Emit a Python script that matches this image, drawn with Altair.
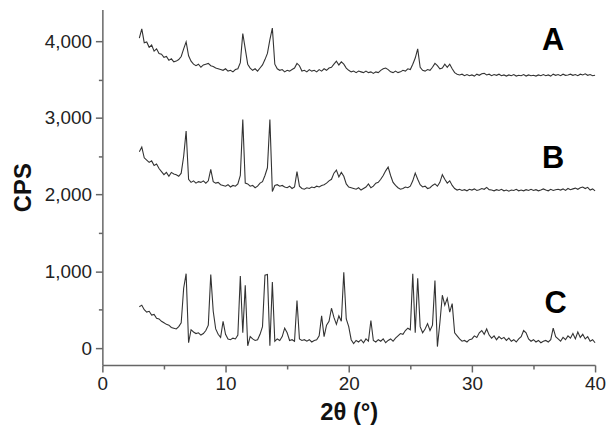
import altair as alt
import pandas as pd

two_theta = [
    3.0, 3.2, 3.4, 3.6, 3.8, 4.0, 4.2, 4.4, 4.6, 4.8,
    5.0, 5.2, 5.4, 5.6, 5.8, 6.0, 6.2, 6.4, 6.6, 6.8,
    7.0, 7.2, 7.4, 7.6, 7.8, 8.0, 8.2, 8.4, 8.6, 8.8,
    9.0, 9.2, 9.4, 9.6, 9.8, 10.0, 10.2, 10.4, 10.6, 10.8,
    11.0, 11.2, 11.4, 11.6, 11.8, 12.0, 12.2, 12.4, 12.6, 12.8,
    13.0, 13.2, 13.4, 13.6, 13.8, 14.0, 14.2, 14.4, 14.6, 14.8,
    15.0, 15.2, 15.4, 15.6, 15.8, 16.0, 16.2, 16.4, 16.6, 16.8,
    17.0, 17.2, 17.4, 17.6, 17.8, 18.0, 18.2, 18.4, 18.6, 18.8,
    19.0, 19.2, 19.4, 19.6, 19.8, 20.0, 20.2, 20.4, 20.6, 20.8,
    21.0, 21.2, 21.4, 21.6, 21.8, 22.0, 22.2, 22.4, 22.6, 22.8,
    23.0, 23.2, 23.4, 23.6, 23.8, 24.0, 24.2, 24.4, 24.6, 24.8,
    25.0, 25.2, 25.4, 25.6, 25.8, 26.0, 26.2, 26.4, 26.6, 26.8,
    27.0, 27.2, 27.4, 27.6, 27.8, 28.0, 28.2, 28.4, 28.6, 28.8,
    29.0, 29.2, 29.4, 29.6, 29.8, 30.0, 30.2, 30.4, 30.6, 30.8,
    31.0, 31.2, 31.4, 31.6, 31.8, 32.0, 32.2, 32.4, 32.6, 32.8,
    33.0, 33.2, 33.4, 33.6, 33.8, 34.0, 34.2, 34.4, 34.6, 34.8,
    35.0, 35.2, 35.4, 35.6, 35.8, 36.0, 36.2, 36.4, 36.6, 36.8,
    37.0, 37.2, 37.4, 37.6, 37.8, 38.0, 38.2, 38.4, 38.6, 38.8,
    39.0, 39.2, 39.4, 39.6, 39.8, 40.0,
]

cps_A = [
    4040, 4160, 3980, 3990, 3920,
    3950, 3870, 3900, 3840, 3830,
    3790, 3800, 3750, 3770, 3730,
    3740, 3760, 3800, 3900, 3990,
    3810, 3740, 3700, 3680, 3700,
    3660, 3690, 3700, 3710, 3680,
    3670, 3650, 3640, 3630, 3620,
    3640, 3610, 3620, 3600, 3630,
    3640, 3720, 4100, 3900, 3700,
    3650, 3620, 3640, 3610, 3650,
    3690, 3760, 3840, 4020, 4170,
    3700, 3640, 3620, 3630, 3600,
    3620, 3610, 3630, 3650, 3710,
    3680, 3610, 3620, 3600, 3630,
    3610, 3620, 3600, 3630, 3610,
    3640, 3620, 3650, 3660, 3700,
    3740, 3690, 3730, 3700, 3650,
    3620, 3600, 3610, 3590, 3610,
    3600, 3590, 3610, 3590, 3600,
    3580, 3600, 3590, 3620, 3640,
    3650, 3630, 3600, 3590, 3610,
    3590, 3600, 3620, 3610, 3640,
    3630, 3700, 3780, 3900, 3660,
    3620, 3610, 3630, 3620, 3660,
    3710, 3680, 3640, 3650, 3700,
    3660, 3700, 3640, 3590, 3570,
    3560, 3570, 3550, 3565, 3550,
    3560, 3545, 3570, 3555, 3575,
    3580, 3560, 3570, 3550, 3565,
    3555, 3570, 3550, 3560, 3545,
    3560, 3550, 3565, 3545, 3555,
    3550, 3565, 3545, 3560, 3550,
    3555, 3545, 3560, 3550, 3565,
    3550, 3560, 3545, 3570, 3555,
    3565, 3550, 3570, 3555, 3560,
    3570, 3555, 3565, 3550, 3570,
    3560, 3575, 3555, 3565, 3550,
    3555,
]

cps_B = [
    2560, 2620, 2480, 2450, 2420,
    2440, 2380, 2400, 2340, 2300,
    2260, 2290, 2240, 2290, 2270,
    2260, 2240, 2280, 2500, 2830,
    2200, 2160, 2180, 2150, 2170,
    2160, 2180, 2150, 2180, 2330,
    2170, 2150, 2160, 2130, 2120,
    2110, 2130, 2100, 2120, 2110,
    2140, 2250, 2980, 2150, 2140,
    2110, 2120, 2090, 2110, 2150,
    2170, 2250, 2350, 2980, 2040,
    2120, 2130, 2110, 2120, 2100,
    2090, 2110, 2080, 2100, 2300,
    2110, 2080, 2070, 2090, 2080,
    2100, 2090, 2110, 2100, 2120,
    2130, 2150, 2180, 2200, 2280,
    2320, 2230, 2290, 2240, 2140,
    2100, 2090, 2080, 2070, 2090,
    2060, 2080, 2100, 2140, 2090,
    2110, 2150, 2160, 2200, 2250,
    2310, 2360, 2250, 2160, 2120,
    2090, 2070, 2080, 2100, 2090,
    2110, 2180, 2280, 2200, 2130,
    2100, 2110, 2080, 2090, 2120,
    2140, 2110, 2160, 2260, 2200,
    2150, 2180, 2120, 2080, 2060,
    2070, 2055, 2065, 2050, 2070,
    2060, 2075, 2055, 2065, 2080,
    2070, 2095, 2065, 2060, 2050,
    2065, 2055, 2070, 2050, 2060,
    2045, 2060, 2055, 2070, 2050,
    2060, 2050, 2065, 2055, 2070,
    2055, 2065, 2050, 2060, 2075,
    2060, 2050, 2070, 2055, 2065,
    2070, 2060, 2075, 2055, 2080,
    2065, 2075, 2085, 2070, 2090,
    2100, 2080, 2095, 2060, 2075,
    2050,
]

cps_C = [
    540, 560, 500, 470, 480,
    430, 440, 390, 380, 350,
    330, 310, 300, 270, 260,
    250, 280, 330, 780, 970,
    70, 240, 210, 190, 200,
    170, 190, 230, 300, 960,
    480, 250, 180, 140, 350,
    180, 120, 110, 130, 120,
    170, 940, 200, 820, 30,
    150, 120, 100, 110, 180,
    280, 950, 960, 30, 860,
    90, 120, 100, 150, 260,
    200, 100, 110, 90, 620,
    120, 100, 110, 90, 110,
    80, 100, 110, 160, 420,
    150, 300, 350, 520, 400,
    310, 420, 350, 990, 380,
    280, 110, 60, 100, 80,
    110, 70, 120, 90, 360,
    100, 80, 110, 90, 120,
    70, 100, 120, 90, 130,
    160, 190, 180, 230, 260,
    240, 970, 200, 910, 280,
    200, 250, 320, 230, 300,
    880, 20, 330, 690, 560,
    650, 470, 580, 200, 160,
    120, 90, 100, 80, 110,
    120, 160, 140, 200, 230,
    180, 250, 170, 130, 160,
    110, 150, 120, 140, 100,
    130, 90, 110, 80, 120,
    150, 230, 200, 120, 90,
    110, 80, 100, 70, 90,
    100, 80, 110, 260, 150,
    120, 90, 140, 110, 160,
    130, 190, 120, 210, 140,
    180, 120, 150, 90, 110,
    70,
]

label_names = ["A", "B", "C"]
label_x = [36.6, 36.6, 36.8]
label_y = [4000, 2470, 570]

x_ticks = [0, 5, 10, 15, 20, 25, 30, 35, 40]
y_ticks = [0, 500, 1000, 1500, 2000, 2500, 3000, 3500, 4000]

frames = []
for name, vals in zip(label_names, [cps_A, cps_B, cps_C]):
    frames.append(pd.DataFrame({"two_theta": two_theta, "cps": vals, "series": name}))
df = pd.concat(frames, ignore_index=True)
labels_df = pd.DataFrame({"x": label_x, "y": label_y, "name": label_names})

FONT = "Liberation Sans"
AXC = "#666666"

x_scale = alt.Scale(domain=[0, 40], nice=False)
y_scale = alt.Scale(domain=[-220, 4414], nice=False)

x_axis = alt.Axis(
    values=x_ticks,
    labelExpr="datum.value % 10 === 0 ? format(datum.value, 'd') : ''",
    tickSize={"condition": {"test": "datum.value % 10 === 0", "value": 7}, "value": 4},
    grid=False,
    labelFlush=False,
    labelOverlap=False,
    labelPadding=3,
    title="2θ (°)",
    titlePadding=7,
)
y_axis = alt.Axis(
    values=y_ticks,
    labelExpr="datum.value % 1000 === 0 ? format(datum.value, ',') : ''",
    tickSize={"condition": {"test": "datum.value % 1000 === 0", "value": 7}, "value": 4},
    grid=False,
    labelOverlap=False,
    labelPadding=4,
    title="CPS",
    titlePadding=9,
)

lines = alt.Chart(df).mark_line(color="#333333", strokeWidth=1.1).encode(
    x=alt.X("two_theta:Q", scale=x_scale, axis=x_axis),
    y=alt.Y("cps:Q", scale=y_scale, axis=y_axis),
    detail="series:N",
)

texts = alt.Chart(labels_df).mark_text(
    font=FONT, fontSize=31, fontWeight="bold", color="#000000", align="center", baseline="middle"
).encode(
    x=alt.X("x:Q", scale=x_scale),
    y=alt.Y("y:Q", scale=y_scale),
    text="name:N",
)

chart = (
    alt.layer(lines, texts)
    .properties(
        width=496,
        height=358,
        autosize=alt.AutoSizeParams(type="none"),
        padding={"left": 95, "top": 0, "right": 11, "bottom": 62},
    )
    .configure_view(stroke=None)
    .configure_axis(
        domainColor=AXC,
        tickColor=AXC,
        domainWidth=1.5,
        tickWidth=1.5,
        labelFont=FONT,
        labelFontSize=19,
        labelColor="#222222",
        titleFont=FONT,
        titleFontSize=24,
        titleFontWeight="bold",
        titleColor="#111111",
    )
)

chart.save("out.html", embed_options={"renderer": "svg", "actions": False})
